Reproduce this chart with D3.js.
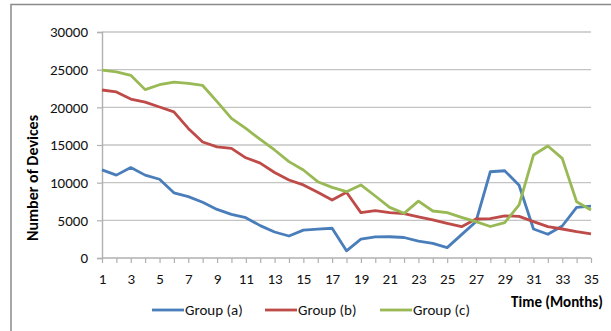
<!DOCTYPE html>
<html><head><meta charset="utf-8">
<script src="https://cdn.jsdelivr.net/npm/d3@7/dist/d3.min.js"></script>
<style>body{margin:0;background:#fff;}svg{display:block;}</style>
</head><body>
<svg id="c" width="611" height="331"></svg>
<script>
const months = d3.range(1, 36);
const yTicks = [0, 5000, 10000, 15000, 20000, 25000, 30000];
const xTickLabels = [1,3,5,7,9,11,13,15,17,19,21,23,25,27,29,31,33,35];
const seriesNames = ["Group (a)", "Group (b)", "Group (c)"];
const groupA = [11700,11000,12000,11000,10450,8650,8150,7400,6450,5800,5350,4300,3450,2920,3700,3820,3950,950,2500,2800,2820,2720,2250,1950,1380,3100,4820,11450,11580,9650,3850,3150,4250,6720,6880];
const groupB = [22300,22050,21100,20700,20050,19400,17200,15400,14750,14550,13300,12600,11350,10350,9700,8720,7700,8720,6020,6280,6020,5880,5450,5050,4600,4160,5180,5220,5600,5520,4820,4160,3850,3500,3200];
const groupC = [24950,24700,24250,22350,23000,23350,23180,22900,20750,18540,17200,15750,14340,12790,11680,10130,9380,8800,9700,8230,6720,5930,7550,6240,6020,5400,4820,4180,4690,7040,13670,14870,13230,7470,6370];
const colors = ["#4A7EBB", "#BE4B48", "#98B954"];

const svg = d3.select("#c");
const font = "Carlito, Calibri, 'Liberation Sans', Arial, sans-serif";

// outer border
svg.append("rect").attr("x", 11).attr("y", 4.5).attr("width", 640).attr("height", 360)
  .attr("fill", "none").attr("stroke", "#8a8a8a").attr("stroke-width", 1.5);

const x = d3.scaleLinear().domain([1, 35]).range([102, 591]);
const y = d3.scaleLinear().domain([0, 30000]).range([258, 32]);

// gridlines
svg.append("g").selectAll("line").data(yTicks.filter(d => d > 0)).join("line")
  .attr("x1", 102).attr("x2", 591).attr("y1", d => y(d)).attr("y2", d => y(d))
  .attr("stroke", "#c4c4c4").attr("stroke-width", 1.4);

// y axis
const yAxis = svg.append("g").attr("transform", "translate(102,0)")
  .call(d3.axisLeft(y).tickValues(yTicks).tickSize(5).tickPadding(9).tickFormat(d3.format("d")));
yAxis.select(".domain").attr("stroke", "#b0b0b0").attr("stroke-width", 1.4);
yAxis.selectAll(".tick line").attr("stroke", "#b0b0b0").attr("stroke-width", 1.2);
yAxis.selectAll("text").attr("font-family", font).attr("font-size", 15).attr("fill", "#111");

// x axis
const xAxis = svg.append("g").attr("transform", "translate(0,258)")
  .call(d3.axisBottom(x).tickValues(months).tickSize(5).tickPadding(10)
    .tickFormat(d => xTickLabels.includes(d) ? d : ""));
xAxis.select(".domain").attr("stroke", "#b0b0b0").attr("stroke-width", 1.4).attr("d", "M102,0H591");
xAxis.selectAll(".tick line").attr("stroke", "#b0b0b0").attr("stroke-width", 1.2);
xAxis.selectAll("text").attr("font-family", font).attr("font-size", 15).attr("fill", "#111");

// lines
const line = d3.line().x((d, i) => x(months[i])).y(d => y(d));
[groupA, groupB, groupC].forEach((s, i) => {
  svg.append("path").datum(s).attr("d", line).attr("fill", "none")
    .attr("stroke", colors[i]).attr("stroke-width", 2.8).attr("stroke-linejoin", "round");
});

// axis titles
svg.append("text").attr("transform", "translate(38,178) rotate(-90)")
  .attr("text-anchor", "middle").attr("font-family", font).attr("font-weight", "bold")
  .attr("font-size", 16).attr("fill", "#000").text("Number of Devices");
svg.append("text").attr("x", 603).attr("y", 307).attr("text-anchor", "end")
  .attr("font-family", font).attr("font-weight", "bold")
  .attr("font-size", 15).attr("fill", "#000").text("Time (Months)");

// legend
const legX = [152, 265, 380];
const leg = svg.append("g").selectAll("g").data(seriesNames).join("g")
  .attr("transform", (d, i) => `translate(${legX[i]},310)`);
leg.append("line").attr("x1", 0).attr("x2", 32).attr("y1", 0).attr("y2", 0)
  .attr("stroke", (d, i) => colors[i]).attr("stroke-width", 2.8);
leg.append("text").attr("x", 33).attr("y", 5).attr("font-family", font)
  .attr("font-size", 15).attr("fill", "#111").text(d => d);
</script>
</body></html>
